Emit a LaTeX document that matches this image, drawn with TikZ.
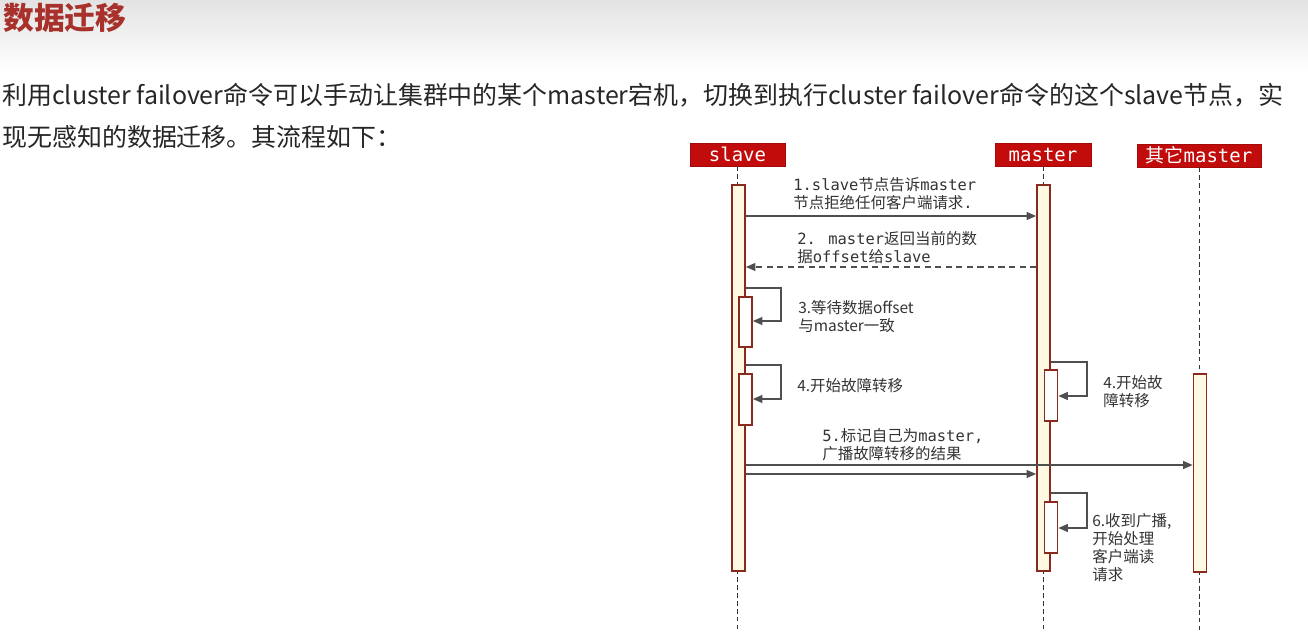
\documentclass[tikz,border=0pt]{standalone}
\usepackage{fontspec}
\newfontfamily\cjk{Noto Sans CJK SC}
\newfontfamily\mono{DejaVu Sans Mono}
\usepackage{xcolor}
\usepackage{tikz}
\usetikzlibrary{arrows.meta,positioning}
\definecolor{titlered}{HTML}{A8322B}
\definecolor{headred}{HTML}{C20C0C}
\definecolor{barline}{HTML}{8A2A1E}
\definecolor{barfill}{HTML}{FFF9E3}
\definecolor{linegray}{HTML}{4F4F4F}
\definecolor{textgray}{HTML}{333333}
\tikzset{
  head/.style={draw=headred!85!black, fill=headred, text=white, minimum height=4.6mm, inner sep=0pt, font=\mono\fontsize{10.8}{12}\selectfont},
  bar/.style={draw=barline, fill=barfill, line width=0.9pt, minimum width=2.6mm, inner sep=0pt},
  subbar/.style={bar, fill=white},
  lifeline/.style={draw=black!80, dash pattern=on 2.5pt off 2pt, line width=0.5pt},
  msg/.style={-{Triangle[length=5.5pt,width=4.5pt]}, draw=linegray, line width=0.9pt},
  reply/.style={msg, dash pattern=on 3.5pt off 2.5pt},
  note/.style={anchor=north west, align=left, inner sep=0pt, text=textgray, font=\cjk\fontsize{8.8}{10.2}\selectfont}
}

\begin{document}
\begin{tikzpicture}[x=0.02cm, y=-0.02cm]
  \useasboundingbox (0,0) rectangle (1308,632);
  \fill[top color=black!11, bottom color=white] (0,0) rectangle (1308,72);

  % heading and text
  \node[anchor=north west, inner sep=0pt, text=titlered, font=\cjk\bfseries\fontsize{17.5}{20}\selectfont] (title) at (3,3) {数据迁移};
  \node[anchor=north west, inner sep=0pt, align=left, text=black!85, font=\cjk\fontsize{14.2}{23.8}\selectfont] (intro) at (2,83)
    {利用cluster failover命令可以手动让集群中的某个master宕机，切换到执行cluster failover命令的这个slave节点，实\\现无感知的数据迁移。其流程如下：};

  % participants
  \node[head, minimum width=1.9cm] (slave) at (737.5,154.5) {slave};
  \node[head, minimum width=1.92cm] (master) at (1043,154.5) {master};
  \node[head, minimum width=2.48cm] (other) at (1199,155.5) {{\cjk 其它}master};

  \coordinate (bottom) at (0,632);
  \draw[lifeline] (slave.south) -- (slave.south |- bottom);
  \draw[lifeline] (master.south) -- (master.south |- bottom);
  \draw[lifeline] (other.south) -- (other.south |- bottom);

  % activations
  \node[bar, minimum height=7.72cm] (sbar) at (738.5,378) {};
  \node[bar, minimum height=7.72cm] (mbar) at (1043.5,378) {};
  \node[bar, minimum height=3.96cm] (obar) at (1200,473) {};
  \node[subbar, minimum height=1.0cm] (sa) at (745.5,322) {};
  \node[subbar, minimum height=1.02cm] (sb) at (745.5,399.5) {};
  \node[subbar, minimum height=1.02cm] (ma) at (1051,395.5) {};
  \node[subbar, minimum height=1.02cm] (mb) at (1051,527.5) {};

  % message levels
  \coordinate (y1) at (0,216);
  \coordinate (y2) at (0,267);
  \coordinate (y3) at (0,288);
  \coordinate (y3b) at (0,321);
  \coordinate (y4) at (0,365);
  \coordinate (y4b) at (0,399);
  \coordinate (z4) at (0,362);
  \coordinate (z4b) at (0,396);
  \coordinate (y5) at (0,465);
  \coordinate (y5b) at (0,474);
  \coordinate (z6) at (0,493);
  \coordinate (z6b) at (0,528);

  \draw[msg] (sbar.east |- y1) -- (mbar.west |- y1);
  \draw[reply] (mbar.west |- y2) -- (sbar.east |- y2);
  \draw[msg] (sbar.east |- y3) -- ++(35,0) |- (sa.east |- y3b);
  \draw[msg] (sbar.east |- y4) -- ++(35,0) |- (sb.east |- y4b);
  \draw[msg] (mbar.east |- z4) -- ++(36,0) |- (ma.east |- z4b);
  \draw[msg] (sbar.east |- y5) -- (obar.west |- y5);
  \draw[msg] (sbar.east |- y5b) -- (mbar.west |- y5b);
  \draw[msg] (mbar.east |- z6) -- ++(36,0) |- (mb.east |- z6b);

  % labels
  \node[note] (n1) at (793,177) {{\mono 1.slave}节点告诉{\mono master}\\节点拒绝任何客户端请求{\mono .}};
  \node[note] (n2) at (797,231) {{\mono 2. master}返回当前的数\\据{\mono offset}给{\mono slave}};
  \node[note] (n3) at (798,300) {3.等待数据offset\\与master一致};
  \node[note] (n4) at (797,378) {4.开始故障转移};
  \node[note] (n4m) at (1103,375) {4.开始故\\障转移};
  \node[note] (n5) at (822,428) {{\mono 5.}标记自己为{\mono master,}\\广播故障转移的结果};
  \node[note] (n6) at (1092,513) {6.收到广播,\\开始处理\\客户端读\\请求};
\end{tikzpicture}
\end{document}
